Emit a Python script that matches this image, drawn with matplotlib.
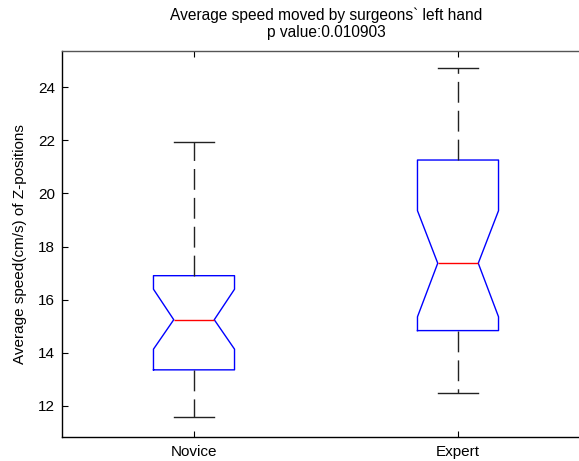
import matplotlib
matplotlib.use("Agg")
import matplotlib.pyplot as plt

plt.rcParams['font.family'] = ['Liberation Sans', 'DejaVu Sans']

groups = ["Novice", "Expert"]
medians = [15.24, 17.37]
q1 = [13.35, 14.83]
q3 = [16.90, 21.26]
whisker_low = [11.56, 12.49]
whisker_high = [21.94, 24.74]
notch_low = [14.13, 15.35]
notch_high = [16.39, 19.35]
yticks = [12, 14, 16, 18, 20, 22, 24]

stats = []
for i, g in enumerate(groups):
    stats.append(dict(label=g, med=medians[i], q1=q1[i], q3=q3[i],
                      whislo=whisker_low[i], whishi=whisker_high[i],
                      cilo=notch_low[i], cihi=notch_high[i], fliers=[]))

fig = plt.figure(figsize=(5.79, 4.61), dpi=100)
W, H = 579, 461
left, right, top, bottom = 62, 578.5, 51, 436.7
unit = 264.0  # pixels per category step
ax = fig.add_axes([left / W, 1 - bottom / H, (right - left) / W, (bottom - top) / H])

ax.bxp(stats, positions=[1, 2], widths=0.307, shownotches=True, showfliers=False,
       boxprops=dict(color='#0000ff', linewidth=1.0),
       medianprops=dict(color='#ff0000', linewidth=1.0),
       whiskerprops=dict(color='#222222', linestyle=(0, (15, 5.8)), linewidth=1.0),
       capprops=dict(color='#222222', linewidth=1.0))

ax.set_xlim(0.5, 0.5 + (right - left) / unit)
ax.set_ylim(10.83, 25.37)
ax.set_yticks(yticks)
ax.set_xticks([1, 2])
ax.set_xticklabels(groups)
ax.tick_params(axis='both', direction='in', length=4, labelsize=11, colors='black')
ax.tick_params(axis='x', top=True, pad=6)
ax.tick_params(axis='y', right=False, pad=5)
ax.spines['right'].set_visible(False)
for s in ax.spines.values():
    s.set_linewidth(1.0)
ax.spines['top'].set_color('#555555')

ax.set_ylabel("Average speed(cm/s) of Z-positions", fontsize=11, labelpad=8)
ax.set_title("Average speed moved by surgeons` left hand\np value:0.010903",
             fontsize=11.2, pad=10, x=(326 - left) / (right - left))

fig.savefig("out.png", dpi=100)
